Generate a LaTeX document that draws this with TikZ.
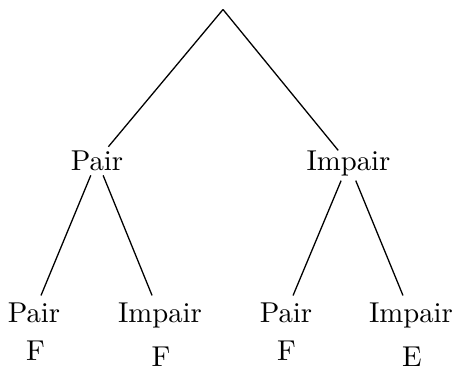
\documentclass[tikz,border=0pt]{standalone}
\begin{document}
\begin{tikzpicture}[x=0.348pt, y=-0.348pt,
  lbl/.style={inner sep=0pt, outer sep=0pt, anchor=base},
  branch/.style={line width=0.45pt}]
\useasboundingbox (0,0) rectangle (455,367);
% apex of the tree
\coordinate (root) at (223,9.5);
% first level
\node[lbl] (p1) at (97,170) {Pair};
\node[lbl] (i1) at (348.5,170) {Impair};
% second level
\node[lbl] (pp) at (34,322) {Pair};
\node[lbl] (pi) at (160,322) {Impair};
\node[lbl] (ip) at (286,322) {Pair};
\node[lbl] (ii) at (411,322) {Impair};
% outcomes
\node[lbl] (fa) at (35.5,360) {F};
\node[lbl] (fb) at (161,366) {F};
\node[lbl] (fc) at (286.5,360) {F};
\node[lbl] (fd) at (412,366) {E};
% branches
\draw[branch, shorten >=1.67pt] (root) -- (p1);
\draw[branch] (root) -- (i1);
\draw[branch, shorten <=1.9pt, shorten >=2.6pt] (p1) -- (pp);
\draw[branch, shorten <=1.9pt, shorten >=2.6pt] (p1) -- (pi);
\draw[branch, shorten <=1.9pt, shorten >=2.6pt] (i1) -- (ip);
\draw[branch, shorten <=1.9pt, shorten >=2.6pt] (i1) -- (ii);
\end{tikzpicture}
\end{document}
